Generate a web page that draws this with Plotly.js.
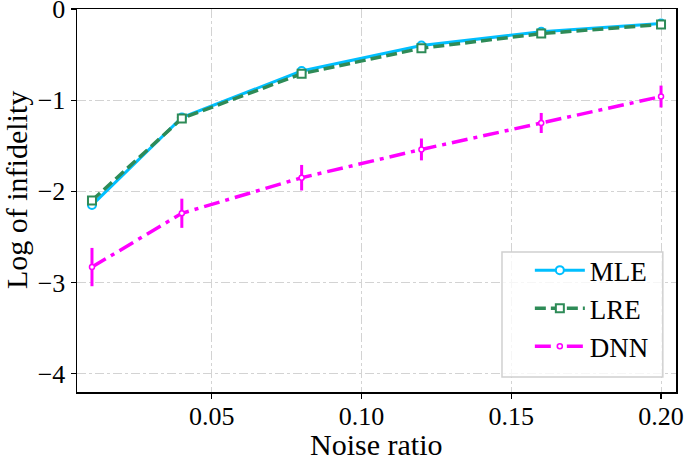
<!DOCTYPE html>
<html>
<head>
<meta charset="utf-8">
<script src="https://cdn.plot.ly/plotly-3.0.1.min.js"></script>
<style>html,body{margin:0;padding:0;background:#fff;}</style>
</head>
<body>
<div id="chart" style="width:685px;height:458px;"></div>
<script>
const noiseRatio = [0.01, 0.04, 0.08, 0.12, 0.16, 0.20];
const mleValues = [-2.15, -1.19, -0.68, -0.40, -0.25, -0.16];
const mleErrors = [0.04, 0.03, 0.03, 0.03, 0.02, 0.02];
const lreValues = [-2.10, -1.20, -0.71, -0.43, -0.27, -0.17];
const lreErrors = [0.04, 0.03, 0.03, 0.03, 0.02, 0.02];
const dnnValues = [-2.83, -2.24, -1.85, -1.54, -1.25, -0.96];
const dnnErrors = [0.21, 0.16, 0.14, 0.12, 0.11, 0.12];
const xTicks = [0.05, 0.10, 0.15, 0.20];
const xTickText = ['0.05', '0.10', '0.15', '0.20'];
const yTicks = [0, -1, -2, -3, -4];
const yTickText = ['0', '\u22121', '\u22122', '\u22123', '\u22124'];
const xTitle = 'Noise ratio';
const yTitle = 'Log of infidelity';

const FONT = 'Liberation Serif, Times New Roman, serif';

const traces = [
  {
    x: noiseRatio, y: mleValues, name: 'MLE', type: 'scatter', mode: 'lines+markers',
    line: {color: '#00BFFF', width: 3},
    marker: {symbol: 'circle', size: 8, color: 'white', line: {color: '#00BFFF', width: 2}},
    error_y: {type: 'data', array: mleErrors, visible: true, color: '#00BFFF', thickness: 3, width: 0}
  },
  {
    x: noiseRatio, y: lreValues, name: 'LRE', type: 'scatter', mode: 'lines+markers',
    line: {color: '#2E8B57', width: 3.5, dash: '11px,5px'},
    marker: {symbol: 'square', size: 8, color: 'white', line: {color: '#2E8B57', width: 2}},
    error_y: {type: 'data', array: lreErrors, visible: true, color: '#2E8B57', thickness: 3, width: 0}
  },
  {
    x: noiseRatio, y: dnnValues, name: 'DNN', type: 'scatter', mode: 'lines+markers',
    line: {color: '#FF00FF', width: 3.5, dash: '16px,6px,4px,6px'},
    marker: {symbol: 'circle', size: 5, color: 'white', line: {color: '#FF00FF', width: 1.5}},
    error_y: {type: 'data', array: dnnErrors, visible: true, color: '#FF00FF', thickness: 3, width: 0}
  }
];

const layout = {
  width: 685, height: 458,
  margin: {l: 77, r: 9, t: 9, b: 66},
  paper_bgcolor: 'white', plot_bgcolor: 'white',
  font: {family: FONT, color: 'black', size: 26},
  showlegend: true,
  legend: {
    x: 0.756, y: 0.381, xanchor: 'left', yanchor: 'top',
    bgcolor: 'rgba(0,0,0,0)', borderwidth: 0, itemwidth: 50,
    font: {family: FONT, size: 27, color: 'black'}
  },
  shapes: [{
    type: 'rect', xref: 'paper', yref: 'paper',
    x0: 0.7095, x1: 0.978, y0: 0.039, y1: 0.3655,
    fillcolor: 'rgba(255,255,255,0.8)', line: {color: '#d0d0d0', width: 1.5},
    layer: 'above'
  }],
  annotations: [
    {text: xTitle, xref: 'paper', yref: 'paper', x: 0.499, y: -0.136,
     xanchor: 'center', yanchor: 'middle', showarrow: false,
     font: {family: FONT, size: 30, color: 'black'}},
    {text: yTitle, xref: 'paper', yref: 'paper', x: -0.102, y: 0.527,
     xanchor: 'center', yanchor: 'middle', showarrow: false, textangle: -90,
     font: {family: FONT, size: 30, color: 'black'}}
  ],
  xaxis: {
    range: [0.005, 0.205],
    tickvals: xTicks, ticktext: xTickText,
    ticks: 'outside', ticklen: 5, tickwidth: 1.2, tickcolor: 'black',
    showline: true, linecolor: 'black', linewidth: 1.5, mirror: true,
    showgrid: true, gridcolor: '#d3d3d3', gridwidth: 1, griddash: 'dashdot',
    zeroline: false, ticklabeloverflow: 'allow', ticklabelstandoff: -5,
    tickfont: {family: FONT, size: 26, color: 'black'}
  },
  yaxis: {
    range: [-4.2, 0],
    tickvals: yTicks, ticktext: yTickText,
    ticks: 'outside', ticklen: 5, tickwidth: 1.2, tickcolor: 'black',
    showline: true, linecolor: 'black', linewidth: 1.5, mirror: true,
    showgrid: true, gridcolor: '#d3d3d3', gridwidth: 1, griddash: 'dashdot',
    zeroline: false, ticklabeloverflow: 'allow',
    tickfont: {family: FONT, size: 26, color: 'black'}
  }
};

Plotly.newPlot('chart', traces, layout, {displayModeBar: false, staticPlot: true});
</script>
</body>
</html>
